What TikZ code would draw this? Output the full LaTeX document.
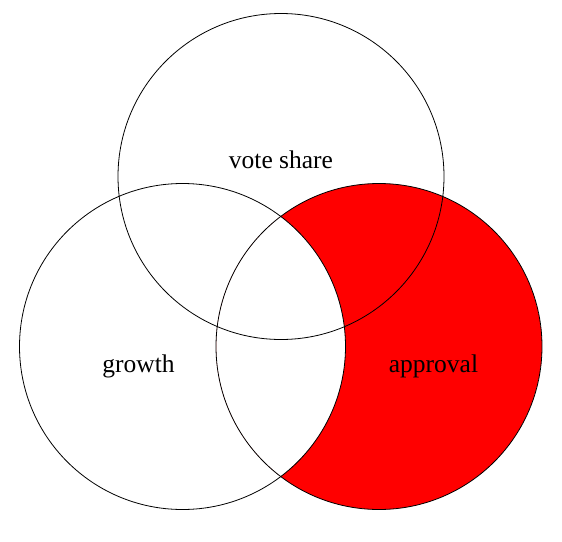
\documentclass[tikz,border=0pt]{standalone}
\usepackage{fontspec}
\newfontfamily\labelfont{Liberation Serif}
\begin{document}
\begin{tikzpicture}[x=1pt,y=-1pt,
  setcircle/.style={draw=black, line width=0.8pt, circle, minimum size=326pt, inner sep=0pt},
  setlabel/.style={font=\labelfont\fontsize{25.5}{28}\selectfont, text=black, anchor=base, inner sep=0pt}]
  \useasboundingbox (0,0) rectangle (562,541);
  % approval without growth
  \begin{scope}
    \clip (379,346.5) circle[radius=163];
    \fill[red, even odd rule] (379,346.5) circle[radius=163] (182.5,346.5) circle[radius=163];
  \end{scope}
  \node[setcircle] (vote) at (281,176.5) {};
  \node[setcircle] (growth) at (182.5,346.5) {};
  \node[setcircle] (approval) at (379,346.5) {};
  \node[setlabel] (tvote) at (281,168) {vote share};
  \node[setlabel] (tgrowth) at (138.5,372) {growth};
  \node[setlabel] (tapproval) at (433.5,372) {approval};
\end{tikzpicture}
\end{document}
